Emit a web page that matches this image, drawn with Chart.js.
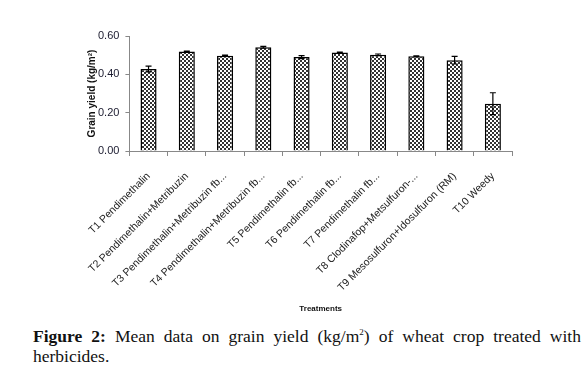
<!DOCTYPE html>
<html>
<head>
<meta charset="utf-8">
<script src="https://cdn.jsdelivr.net/npm/chart.js@4.4.1/dist/chart.umd.min.js"></script>
<style>
  body { margin: 0; background: #fff; width: 583px; height: 382px; overflow: hidden; }
  #wrap { position: relative; width: 583px; height: 316px; }
  #caption {
    position: absolute; left: 33px; top: 322px; width: 548px;
    font-family: "Liberation Serif", "DejaVu Serif", serif; font-size: 17.5px;
    line-height: 20px; color: #111;
  }
  #caption .l1 { text-align: justify; text-align-last: justify; white-space: nowrap; }
  #caption b { font-weight: bold; }
</style>
</head>
<body>
<div id="wrap"><canvas id="chart"></canvas></div>
<div id="caption">
  <div class="l1"><b>Figure 2:</b> Mean data on grain yield (kg/m<sup style="font-size:9px;vertical-align:7px">2</sup>) of wheat crop treated with</div>
  <div>herbicides.</div>
</div>
<script>
const treatments = [
  "T1 Pendimethalin",
  "T2 Pendimethalin+Metribuzin",
  "T3 Pendimethalin+Metribuzin fb...",
  "T4 Pendimethalin+Metribuzin fb...",
  "T5 Pendimethalin fb...",
  "T6 Pendimethalin fb...",
  "T7 Pendimethalin fb...",
  "T8 Clodinafop+Metsulfuron-...",
  "T9 Mesosulfuron+Idosulfuron (RM)",
  "T10 Weedy"
];
const grainYield = [0.428, 0.519, 0.497, 0.541, 0.490, 0.514, 0.502, 0.495, 0.474, 0.247];
const yieldError = [0.015, 0.002, 0.003, 0.005, 0.008, 0.002, 0.004, 0.002, 0.020, 0.057];
const yTicks = [0, 0.2, 0.4, 0.6];

// checkered fill like the Excel pattern
function makePattern() {
  const p = document.createElement("canvas");
  p.width = 4; p.height = 4;
  const c = p.getContext("2d");
  c.fillStyle = "#ffffff";
  c.fillRect(0, 0, 4, 4);
  c.fillStyle = "#333333";
  c.fillRect(0, 0, 2, 2);
  c.fillRect(2, 2, 2, 2);
  return c.createPattern(p, "repeat");
}

const errorBars = {
  id: "errorBars",
  afterDatasetsDraw(chart) {
    const ctx = chart.ctx;
    const meta = chart.getDatasetMeta(0);
    const y = chart.scales.y;
    ctx.save();
    ctx.strokeStyle = "#000";
    ctx.lineWidth = 1.2;
    meta.data.forEach((bar, i) => {
      const v = grainYield[i], e = yieldError[i];
      const top = y.getPixelForValue(v + e);
      const bot = y.getPixelForValue(v - e);
      ctx.beginPath();
      ctx.moveTo(bar.x, top); ctx.lineTo(bar.x, bot);
      ctx.moveTo(bar.x - 3, top); ctx.lineTo(bar.x + 3, top);
      ctx.moveTo(bar.x - 3, bot); ctx.lineTo(bar.x + 3, bot);
      ctx.stroke();
    });
    ctx.restore();
  }
};

new Chart(document.getElementById("chart").getContext("2d"), {
  type: "bar",
  data: {
    labels: treatments,
    datasets: [{
      data: grainYield,
      backgroundColor: makePattern(),
      borderColor: "#000",
      borderWidth: { top: 1.5, left: 1.5, right: 1.5, bottom: 0 },
      borderSkipped: "bottom",
      categoryPercentage: 1,
      barPercentage: 0.42
    }]
  },
  options: {
    responsive: true,
    maintainAspectRatio: false,
    animation: false,
    layout: { padding: { top: 36, right: 71, left: 86, bottom: 2 } },
    plugins: {
      legend: { display: false },
      tooltip: { enabled: false }
    },
    scales: {
      y: {
        min: 0, max: 0.6,
        afterBuildTicks: (s) => { s.ticks = yTicks.map(v => ({ value: v })); },
        ticks: {
          callback: (v) => v.toFixed(2),
          color: "#1a1a2e",
          font: { family: "Liberation Sans", size: 11 },
          padding: 6
        },
        grid: { drawOnChartArea: false, drawTicks: true, tickLength: 4, color: "#888" },
        border: { color: "#888", width: 1 },
        title: {
          display: true,
          text: "Grain yield (kg/m²)",
          color: "#111",
          font: { family: "Liberation Sans", size: 10, weight: "bold" },
          padding: { top: 0, bottom: -6 }
        }
      },
      x: {
        afterFit: (s) => { s.height = 163; s.paddingLeft = 0; s.paddingRight = 0; },
        ticks: {
          maxRotation: 45, minRotation: 45,
          autoSkip: false,
          color: "#222",
          font: { family: "Liberation Sans", size: 10.5 },
          padding: 14
        },
        grid: { offset: true, drawOnChartArea: false, drawTicks: true, tickLength: 5, color: "#888" },
        border: { color: "#888", width: 1 },
        title: {
          display: true,
          text: "Treatments",
          color: "#111",
          font: { family: "Liberation Sans", size: 8, weight: "bold" },
          padding: { top: 0, bottom: 0 }
        }
      }
    }
  },
  plugins: [errorBars]
});
</script>
</body>
</html>
